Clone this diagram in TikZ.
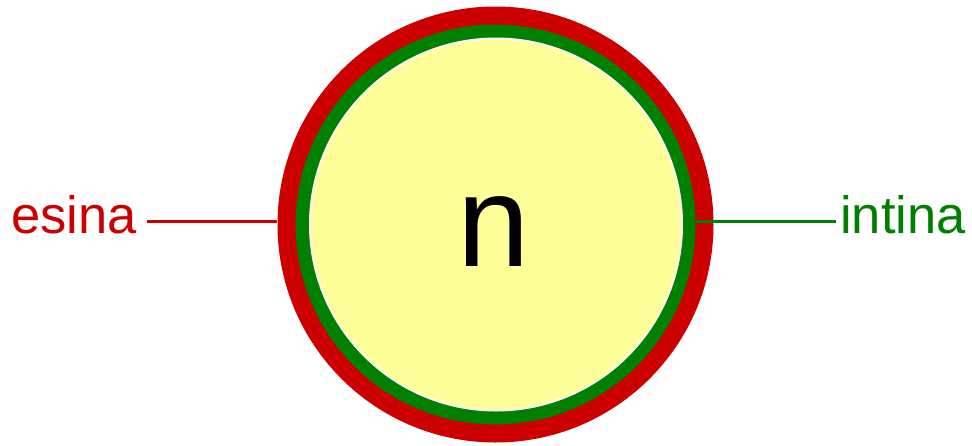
\documentclass[tikz,border=0pt]{standalone}
\usepackage{fontspec}
\setmainfont{Liberation Sans}
\definecolor{esred}{HTML}{CC0000}
\definecolor{ingreen}{HTML}{008000}
\definecolor{core}{HTML}{FFFF99}
\begin{document}
\begin{tikzpicture}[x=1pt,y=-1pt,
  disc/.style={circle,inner sep=0pt,minimum size=#1,draw=none},
  lbl/.style={inner sep=0pt,font=\fontsize{52.5}{60}\selectfont},
  lead/.style={line width=3pt}]
\useasboundingbox (0,0) rectangle (972,445);
\node[disc=436pt,fill=esred] (outer) at (495.5,224.5) {};
\node[disc=400pt,fill=ingreen] (ring) at (495.5,224.5) {};
\node[disc=374pt,fill=white] (gap) at (496,224.5) {};
\node[disc=370pt,fill=core] (core) at (496,224.5) {};
\node[inner sep=0pt,anchor=base,font=\fontsize{130}{140}\selectfont] (n) at (493.5,266) {n};
\node[lbl,text=esred,anchor=base west] (esina) at (11,233) {esina};
\node[lbl,text=ingreen,anchor=base west] (intina) at (840,233) {intina};
\coordinate (le) at (147,221);
\coordinate (re) at (836,221);
\draw[lead,esred] (le) -- (outer.west |- le);
\draw[lead,ingreen] (ring.east |- re) -- (re);
\end{tikzpicture}
\end{document}
